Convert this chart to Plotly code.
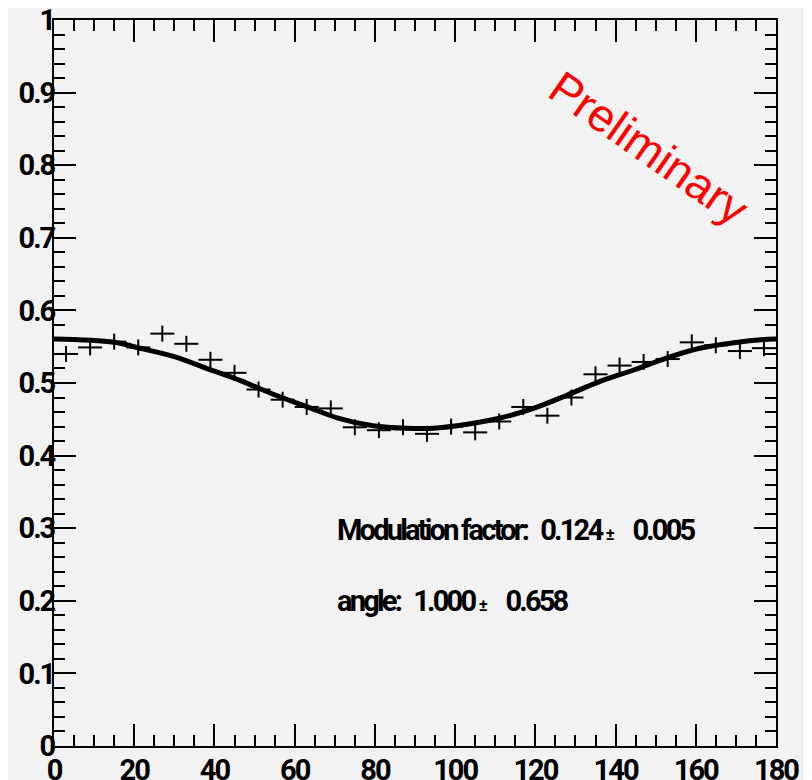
import plotly.graph_objects as go

# Data points (bin centres in degrees, 6-degree bins)
angles = [3, 9, 15, 21, 27, 33, 39, 45, 51, 57, 63, 69, 75, 81, 87,
          93, 99, 105, 111, 117, 123, 129, 135, 141, 147, 153, 159, 165, 171, 177]
values = [0.540, 0.549, 0.557, 0.549, 0.568, 0.554, 0.532, 0.514, 0.491, 0.477,
          0.467, 0.465, 0.439, 0.435, 0.439, 0.430, 0.440, 0.432, 0.447, 0.467,
          0.455, 0.480, 0.512, 0.524, 0.529, 0.533, 0.556, 0.552, 0.544, 0.548]
x_err = [3] * len(angles)
y_err = [0.011] * len(angles)

# Fit curve, values
fit_x = [0, 15, 21.5, 30, 38, 46.5, 54.5, 63, 71, 79.5, 88, 94.5,
         103, 111, 119.5, 128, 136, 144.5, 152.5, 161, 169.5, 178, 180]
fit_y = [0.5605, 0.5560, 0.5478, 0.5363, 0.5202, 0.5032, 0.4848, 0.4674, 0.4514, 0.4412, 0.4376, 0.4376,
         0.4431, 0.4514, 0.4651, 0.4835, 0.5018, 0.5179, 0.5340, 0.5478, 0.5555, 0.5602, 0.5605]

x_ticks = [0, 20, 40, 60, 80, 100, 120, 140, 160, 180]
x_tick_labels = ["0", "20", "40", "60", "80", "100", "120", "140", "160", "180"]
y_ticks = [0, 0.1, 0.2, 0.3, 0.4, 0.5, 0.6, 0.7, 0.8, 0.9, 1]
y_tick_labels = ["0", "0.1", "0.2", "0.3", "0.4", "0.5", "0.6", "0.7", "0.8", "0.9", "1"]

BG = "#f2f2f2"
FONT = "Roboto, Liberation Sans, sans-serif"
SQ = "<span style='letter-spacing:-2px'>{}</span>"
SQ2 = "<span style='letter-spacing:-2.8px'>{}</span>"
PM = "<span style='font-size:17px;letter-spacing:0px'>±</span>"
NB = "\u00a0"

fig = go.Figure()
fig.add_trace(go.Scatter(
    x=angles, y=values, mode="markers",
    marker=dict(size=1, color="black", opacity=0),
    error_x=dict(type="data", array=x_err, visible=True, color="black", thickness=2, width=0),
    error_y=dict(type="data", array=y_err, visible=True, color="black", thickness=2, width=0),
    showlegend=False, hoverinfo="skip"))
fig.add_trace(go.Scatter(
    x=fit_x, y=fit_y, mode="lines", line=dict(color="black", width=5, shape="spline"),
    showlegend=False))

axis_common = dict(
    showline=True, linecolor="black", linewidth=2, mirror="allticks",
    ticks="inside", ticklen=22, tickwidth=2, tickcolor="black",
    showgrid=False, zeroline=False, automargin=False, ticklabeloverflow="allow",
    tickfont=dict(family=FONT, size=29, color="black", weight="bold"),
)

fig.update_xaxes(range=[0, 180], tickvals=x_ticks, ticktext=[SQ.format(t) for t in x_tick_labels],
                 minor=dict(dtick=5, ticklen=11, tickwidth=2, tickcolor="black", ticks="inside"),
                 ticklabelstandoff=-3, **axis_common)
fig.update_yaxes(range=[0, 1], tickvals=y_ticks, ticktext=[SQ.format(t) for t in y_tick_labels],
                 minor=dict(dtick=0.02, ticklen=11, tickwidth=2, tickcolor="black", ticks="inside"),
                 ticklabelstandoff=-8, **axis_common)

mod_text = "Modulation factor:" + NB * 3 + "0.124" + NB + PM + NB * 4 + "0.005"
ang_text = "angle:" + NB * 3 + "1.000" + NB + PM + NB * 4 + "0.658"

fig.add_annotation(x=0.389, y=0.298, xref="paper", yref="paper", xanchor="left", yanchor="middle",
                   text=SQ2.format(mod_text),
                   showarrow=False, font=dict(family=FONT, size=29, color="black", weight="bold"))
fig.add_annotation(x=0.389, y=0.200, xref="paper", yref="paper", xanchor="left", yanchor="middle",
                   text=SQ2.format(ang_text),
                   showarrow=False, font=dict(family=FONT, size=29, color="black", weight="bold"))
fig.add_annotation(x=0.824, y=0.824, xref="paper", yref="paper", xanchor="center", yanchor="middle",
                   text="Preliminary", textangle=35, showarrow=False,
                   font=dict(family="Liberation Sans, Arial, sans-serif", size=46, color="red"))

# page body adds an 8 px offset; margins compensate so the frame sits at 54..776 x 20..746
fig.update_layout(
    width=812, height=780,
    margin=dict(l=46, r=44, t=12, b=42),
    paper_bgcolor=BG, plot_bgcolor=BG,
)

fig.write_html("out.html")
